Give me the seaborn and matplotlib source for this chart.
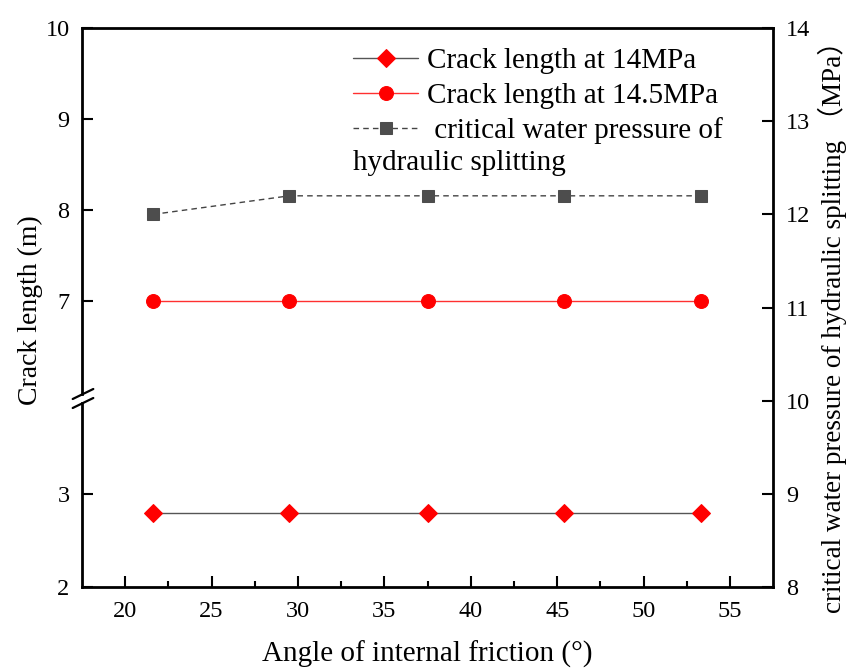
import matplotlib
matplotlib.use("Agg")
import matplotlib.pyplot as plt
import seaborn as sns
import numpy as np

# ---------------- data ----------------
angles = [21.6, 29.5, 37.5, 45.4, 53.3]
crack_14 = [2.8, 2.8, 2.8, 2.8, 2.8]
crack_145 = [7.0, 7.0, 7.0, 7.0, 7.0]
critical_pressure = [12.0, 12.2, 12.2, 12.2, 12.2]
x_ticks = [20, 25, 30, 35, 40, 45, 50, 55]
low_ticks = [2, 3]
high_ticks = [7, 8, 9, 10]
right_ticks = [8, 9, 10, 11, 12, 13, 14]

sns.set_style("ticks")
plt.rcParams['font.family'] = ['Liberation Serif', 'Noto Sans CJK SC', 'DejaVu Sans']
plt.rcParams['text.color'] = 'black'
plt.rcParams['axes.labelcolor'] = 'black'
plt.rcParams['xtick.color'] = 'black'
plt.rcParams['ytick.color'] = 'black'
plt.rcParams['xtick.labelcolor'] = 'black'
plt.rcParams['ytick.labelcolor'] = 'black'

W, H = 848, 669
fig = plt.figure(figsize=(W / 100, H / 100), dpi=100)

L, R = 82 / W, 773.3 / W
B, T = 1 - 586.7 / H, 1 - 28.3 / H
BRK = 1 - 398.5 / H

ax_full = fig.add_axes([L, B, R - L, T - B])
ax_low = fig.add_axes([L, B, R - L, BRK - B], sharex=ax_full)
ax_high = fig.add_axes([L, BRK, R - L, T - BRK], sharex=ax_full)

spine_w = 2.0
tick_fs = 17.5
label_fs = 21
ylabel_fs = 20

# full axes: x-axis, right axis, box
ax_full.set_xlim(17.5, 57.5)
ax_full.set_ylim(8, 14)
ax_full.set_xticks(x_ticks)
ax_full.set_xticks([22.5, 27.5, 32.5, 37.5, 42.5, 47.5, 52.5], minor=True)
ax_full.set_yticks(right_ticks)
ax_full.yaxis.tick_right()
ax_full.yaxis.set_label_position("right")
ax_full.tick_params(axis='x', which='major', direction='in', length=8, width=1.5,
                    labelsize=tick_fs, pad=10, top=False)
ax_full.tick_params(axis='x', which='minor', direction='in', length=4, width=1.5, top=False)
ax_full.tick_params(axis='y', which='major', direction='in', length=8, width=1.5,
                    labelsize=tick_fs, pad=9, left=False, right=True)
for s in ['top', 'bottom', 'right']:
    ax_full.spines[s].set_linewidth(spine_w)
    ax_full.spines[s].set_color('black')
ax_full.spines['left'].set_visible(False)
ax_full.set_xlabel("Angle of internal friction (°)", fontsize=label_fs, labelpad=14)

fig.text(832 / W, 1 - 320 / H,
         "critical water pressure of hydraulic splitting \uFF08MPa\uFF09",
         rotation=90, fontsize=19.5, ha='center', va='center')

# left broken axes
for a, lim, ticks in [(ax_low, (2, 4.04), low_ticks), (ax_high, (5.93, 10), high_ticks)]:
    a.patch.set_alpha(0)
    a.set_ylim(*lim)
    a.set_yticks(ticks)
    for s in ['top', 'bottom', 'right']:
        a.spines[s].set_visible(False)
    a.spines['left'].set_linewidth(spine_w)
    a.spines['left'].set_color('black')
    a.tick_params(axis='x', which='both', bottom=False, top=False, labelbottom=False)
    a.tick_params(axis='y', direction='in', length=8, width=1.5, labelsize=tick_fs, pad=9)
ax_low.spines['left'].set_bounds(2, 3.99)
ax_high.spines['left'].set_bounds(5.98, 10)

# break marks
for yy in [394, 403]:
    y0 = 1 - (yy + 5) / H
    y1 = 1 - (yy - 5) / H
    fig.add_artist(plt.Line2D([72.7 / W, 93.3 / W], [y0, y1], color='black',
                              linewidth=1.6, transform=fig.transFigure))

# data
sns.lineplot(x=angles, y=crack_14, ax=ax_low, color='#555555', linewidth=1.0,
             marker='D', markersize=9.5, markerfacecolor='#ff0000', markeredgecolor='#ff0000',
             label='Crack length at 14MPa', legend=False)
sns.lineplot(x=angles, y=crack_145, ax=ax_high, color='#ff3030', linewidth=1.0,
             marker='o', markersize=10, markerfacecolor='#ff0000', markeredgecolor='#ff0000',
             label='Crack length at 14.5MPa', legend=False)
sns.lineplot(x=angles, y=critical_pressure, ax=ax_full, color='#444444', linewidth=1.0,
             linestyle=(0, (4, 3)), marker='s', markersize=9,
             markerfacecolor='#4d4d4d', markeredgecolor='#4d4d4d',
             label=' critical water pressure of', legend=False)

ax_full.set_xlim(17.5, 57.5)
ax_full.set_ylim(8, 14)
ax_low.set_ylim(2, 4.04)
ax_high.set_ylim(5.93, 10)

fig.text(30 / W, 1 - 310 / H, "Crack length (m)", rotation=90, fontsize=ylabel_fs,
         ha='center', va='center')

handles, labels = [], []
for a in [ax_low, ax_high, ax_full]:
    h, l = a.get_legend_handles_labels()
    handles += h
    labels += l
leg = fig.legend(handles, labels, loc='upper left',
                 bbox_to_anchor=(353 / W, 1 - 48 / H), frameon=False,
                 fontsize=label_fs, handlelength=2.23, handletextpad=0.3,
                 labelspacing=0.28, borderaxespad=0, borderpad=0)
fig.text(353 / W, 1 - 163 / H, "hydraulic splitting", fontsize=label_fs,
         ha='left', va='center')

fig.savefig("out.png", dpi=100)
